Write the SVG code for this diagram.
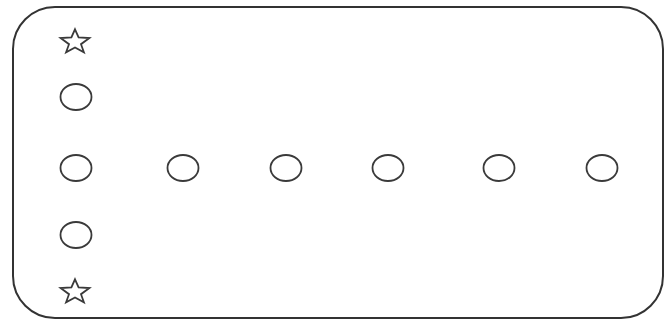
<svg xmlns="http://www.w3.org/2000/svg" width="665" height="321" viewBox="0 0 665 321">
<style>
.b{fill:none;stroke:#333;stroke-width:2}
.c{fill:none;stroke:#3a3a3a;stroke-width:1.8}
</style>
<defs>
<polygon id="star" points="0,-12.7 3.6,-4.6 14.4,-3.9 6,2.2 8.9,10.3 0,5.5 -8.9,10.3 -6,2.2 -14.4,-3.9 -3.6,-4.6"/>
<ellipse id="circ" cx="0" cy="0" rx="15.5" ry="13"/>
</defs>
<rect class="b" x="13" y="7" width="650" height="311" rx="42" ry="42"/>
<g id="star1" class="c"><use href="#star" x="75" y="42"/></g>
<g id="n1" class="c"><use href="#circ" x="76" y="97"/></g>
<g id="n2" class="c"><use href="#circ" x="76" y="168"/></g>
<g id="n3" class="c"><use href="#circ" x="183" y="168"/></g>
<g id="n4" class="c"><use href="#circ" x="286" y="168"/></g>
<g id="n5" class="c"><use href="#circ" x="388" y="168"/></g>
<g id="n6" class="c"><use href="#circ" x="499" y="168"/></g>
<g id="n7" class="c"><use href="#circ" x="602" y="168"/></g>
<g id="n8" class="c"><use href="#circ" x="76" y="235"/></g>
<g id="star2" class="c"><use href="#star" x="75" y="292"/></g>
<g id="connectors"></g>
</svg>
